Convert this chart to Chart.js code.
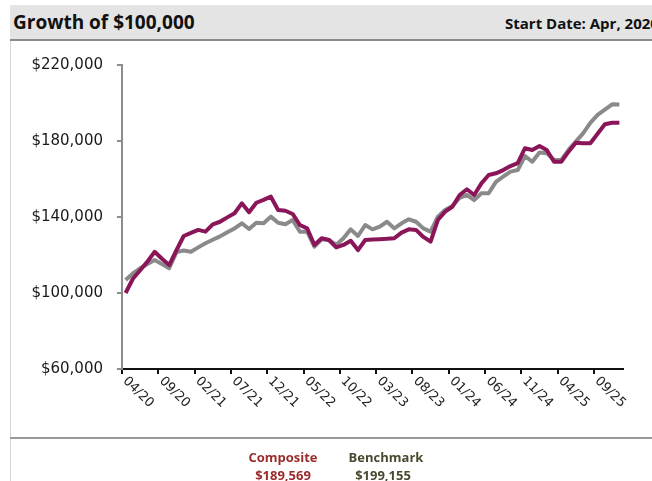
<!DOCTYPE html>
<html>
<head>
<meta charset="utf-8">
<script src="https://cdn.jsdelivr.net/npm/chart.js@4.4.1/dist/chart.umd.min.js"></script>
<style>
    body { margin: 0; width: 652px; height: 481px; overflow: hidden; background: #fff; position: relative; }
    #chart { position: absolute; left: 0; top: 0; }
    #header { position: absolute; left: 10px; top: 5px; width: 642px; height: 34px; background: #e4e4e4; border-bottom: 2px solid #8c8c8c; overflow: hidden; }
    #title { position: absolute; left: 3px; top: 4px; font: bold 19px "Open Sans", sans-serif; color: #111; white-space: nowrap; }
    #start { position: absolute; left: 495px; top: 8px; font: bold 15px "Open Sans", sans-serif; color: #111; white-space: nowrap; }
    #leftline { position: absolute; left: 10px; top: 41px; width: 1px; height: 440px; background: #d6d6d6; }
    #sep { position: absolute; left: 10px; top: 437px; width: 642px; height: 2px; background: #9a9a9a; }
    .leg { position: absolute; width: 100px; text-align: center; font: bold 13px "Open Sans", sans-serif; white-space: nowrap; }
</style>
</head>
<body>
<canvas id="chart" width="652" height="481"></canvas>
<div id="header"><div id="title">Growth of $100,000</div><div id="start">Start Date: Apr, 2020</div></div>
<div id="leftline"></div>
<div id="sep"></div>
<div class="leg" style="left:233px; top:448px; color:#9b2c2c;">Composite</div>
<div class="leg" style="left:336px; top:448px; color:#4a4a30;">Benchmark</div>
<div class="leg" style="left:233px; top:466px; color:#9b2c2c;">$189,569</div>
<div class="leg" style="left:333px; top:466px; color:#4a4a30;">$199,155</div>
<script>
const months = [
    '04/20', '05/20', '06/20', '07/20', '08/20', '09/20', '10/20', '11/20', '12/20',
    '01/21', '02/21', '03/21', '04/21', '05/21', '06/21', '07/21', '08/21', '09/21', '10/21', '11/21', '12/21',
    '01/22', '02/22', '03/22', '04/22', '05/22', '06/22', '07/22', '08/22', '09/22', '10/22', '11/22', '12/22',
    '01/23', '02/23', '03/23', '04/23', '05/23', '06/23', '07/23', '08/23', '09/23', '10/23', '11/23', '12/23',
    '01/24', '02/24', '03/24', '04/24', '05/24', '06/24', '07/24', '08/24', '09/24', '10/24', '11/24', '12/24',
    '01/25', '02/25', '03/25', '04/25', '05/25', '06/25', '07/25', '08/25', '09/25', '10/25', '11/25', '12/25'
];
const tickLabels = ['04/20', '09/20', '02/21', '07/21', '12/21', '05/22', '10/22', '03/23', '08/23', '01/24', '06/24', '11/24', '04/25', '09/25'];

const composite = [
    100000, 107500, 112000, 116500, 121700, 118000, 114700, 122500, 130000, 131600,
    133200, 132300, 136100, 137500, 139800, 142000, 147200, 142500, 147500, 149000,
    150700, 143700, 143300, 141600, 135800, 134000, 125300, 128800, 127900, 124000,
    125300, 127500, 122600, 127900, 128100, 128300, 128500, 128800, 131800, 133500,
    133200, 129500, 127000, 138400, 142800, 145400, 151600, 154600, 151600, 157700,
    162100, 163000, 164700, 166800, 168300, 176200, 175300, 177400, 175300, 169100,
    169100, 174400, 179100, 178800, 178800, 183800, 188800, 189600, 189569
];
const benchmark = [
    106800, 110300, 113000, 115300, 117400, 115200, 113000, 121500, 122400, 121700,
    124000, 126200, 128000, 129800, 132000, 134000, 136700, 133700, 137000, 136700,
    140200, 137000, 136200, 138400, 132300, 132300, 124400, 128300, 127900, 125300,
    128800, 133500, 130000, 135800, 133500, 134900, 137500, 134000, 136700, 138800,
    137500, 134000, 132300, 140200, 143700, 145800, 150000, 151600, 148900, 152500,
    152500, 158500, 161200, 163900, 164700, 172100, 169100, 173900, 173600, 170000,
    170000, 175300, 179700, 184000, 189500, 193700, 196500, 199300, 199155
];

// x labels are drawn turned clockwise, which the scale itself cannot do
const slantedLabels = {
    id: 'slantedLabels',
    afterDraw(chart) {
        const xs = chart.scales.x;
        const half = (xs.getPixelForTick(1) - xs.getPixelForTick(0)) / 2;
        const ctx = chart.ctx;
        ctx.save();
        ctx.font = '13px "DejaVu Sans"';
        ctx.fillStyle = '#222';
        ctx.textAlign = 'left';
        ctx.textBaseline = 'middle';
        months.forEach((m, i) => {
            if (!tickLabels.includes(m)) return;
            ctx.save();
            ctx.translate(xs.getPixelForTick(i) - half + 3, xs.top + 10);
            ctx.rotate(Math.PI / 4);
            ctx.fillText(m, 0, 0);
            ctx.restore();
        });
        ctx.restore();
    }
};

new Chart(document.getElementById('chart'), {
    type: 'line',
    data: {
        labels: months,
        datasets: [{
            label: 'Composite',
            data: composite,
            borderColor: '#8a1659',
            borderWidth: 4,
            pointRadius: 0,
            tension: 0,
            borderJoinStyle: 'round'
        }, {
            label: 'Benchmark',
            data: benchmark,
            borderColor: '#8a8a8a',
            borderWidth: 4,
            pointRadius: 0,
            tension: 0,
            borderJoinStyle: 'round'
        }]
    },
    options: {
        responsive: false,
        animation: false,
        devicePixelRatio: 1,
        layout: { padding: { top: 65, right: 29, left: 0, bottom: 52 } },
        plugins: { legend: { display: false }, tooltip: { enabled: false } },
        scales: {
            x: {
                type: 'category',
                offset: true,
                afterFit: s => { s.height = 60; },
                ticks: { display: false, autoSkip: false },
                grid: {
                    offset: true,
                    drawOnChartArea: false,
                    tickLength: 5,
                    lineWidth: 2,
                    tickColor: c => tickLabels.includes(months[c.index]) ? '#111' : 'transparent'
                },
                border: { color: '#111', width: 2 }
            },
            y: {
                min: 60000,
                max: 220000,
                afterFit: s => { s.width = 122; },
                ticks: {
                    stepSize: 40000,
                    padding: 14,
                    color: '#1a1a1a',
                    font: { family: 'DejaVu Sans', size: 15 },
                    callback: v => '$' + v.toLocaleString('en-US')
                },
                grid: { drawOnChartArea: false, tickLength: 5, color: '#8c8c8c', lineWidth: 2 },
                border: { color: '#8c8c8c', width: 2 }
            }
        }
    },
    plugins: [slantedLabels]
});
</script>
</body>
</html>
